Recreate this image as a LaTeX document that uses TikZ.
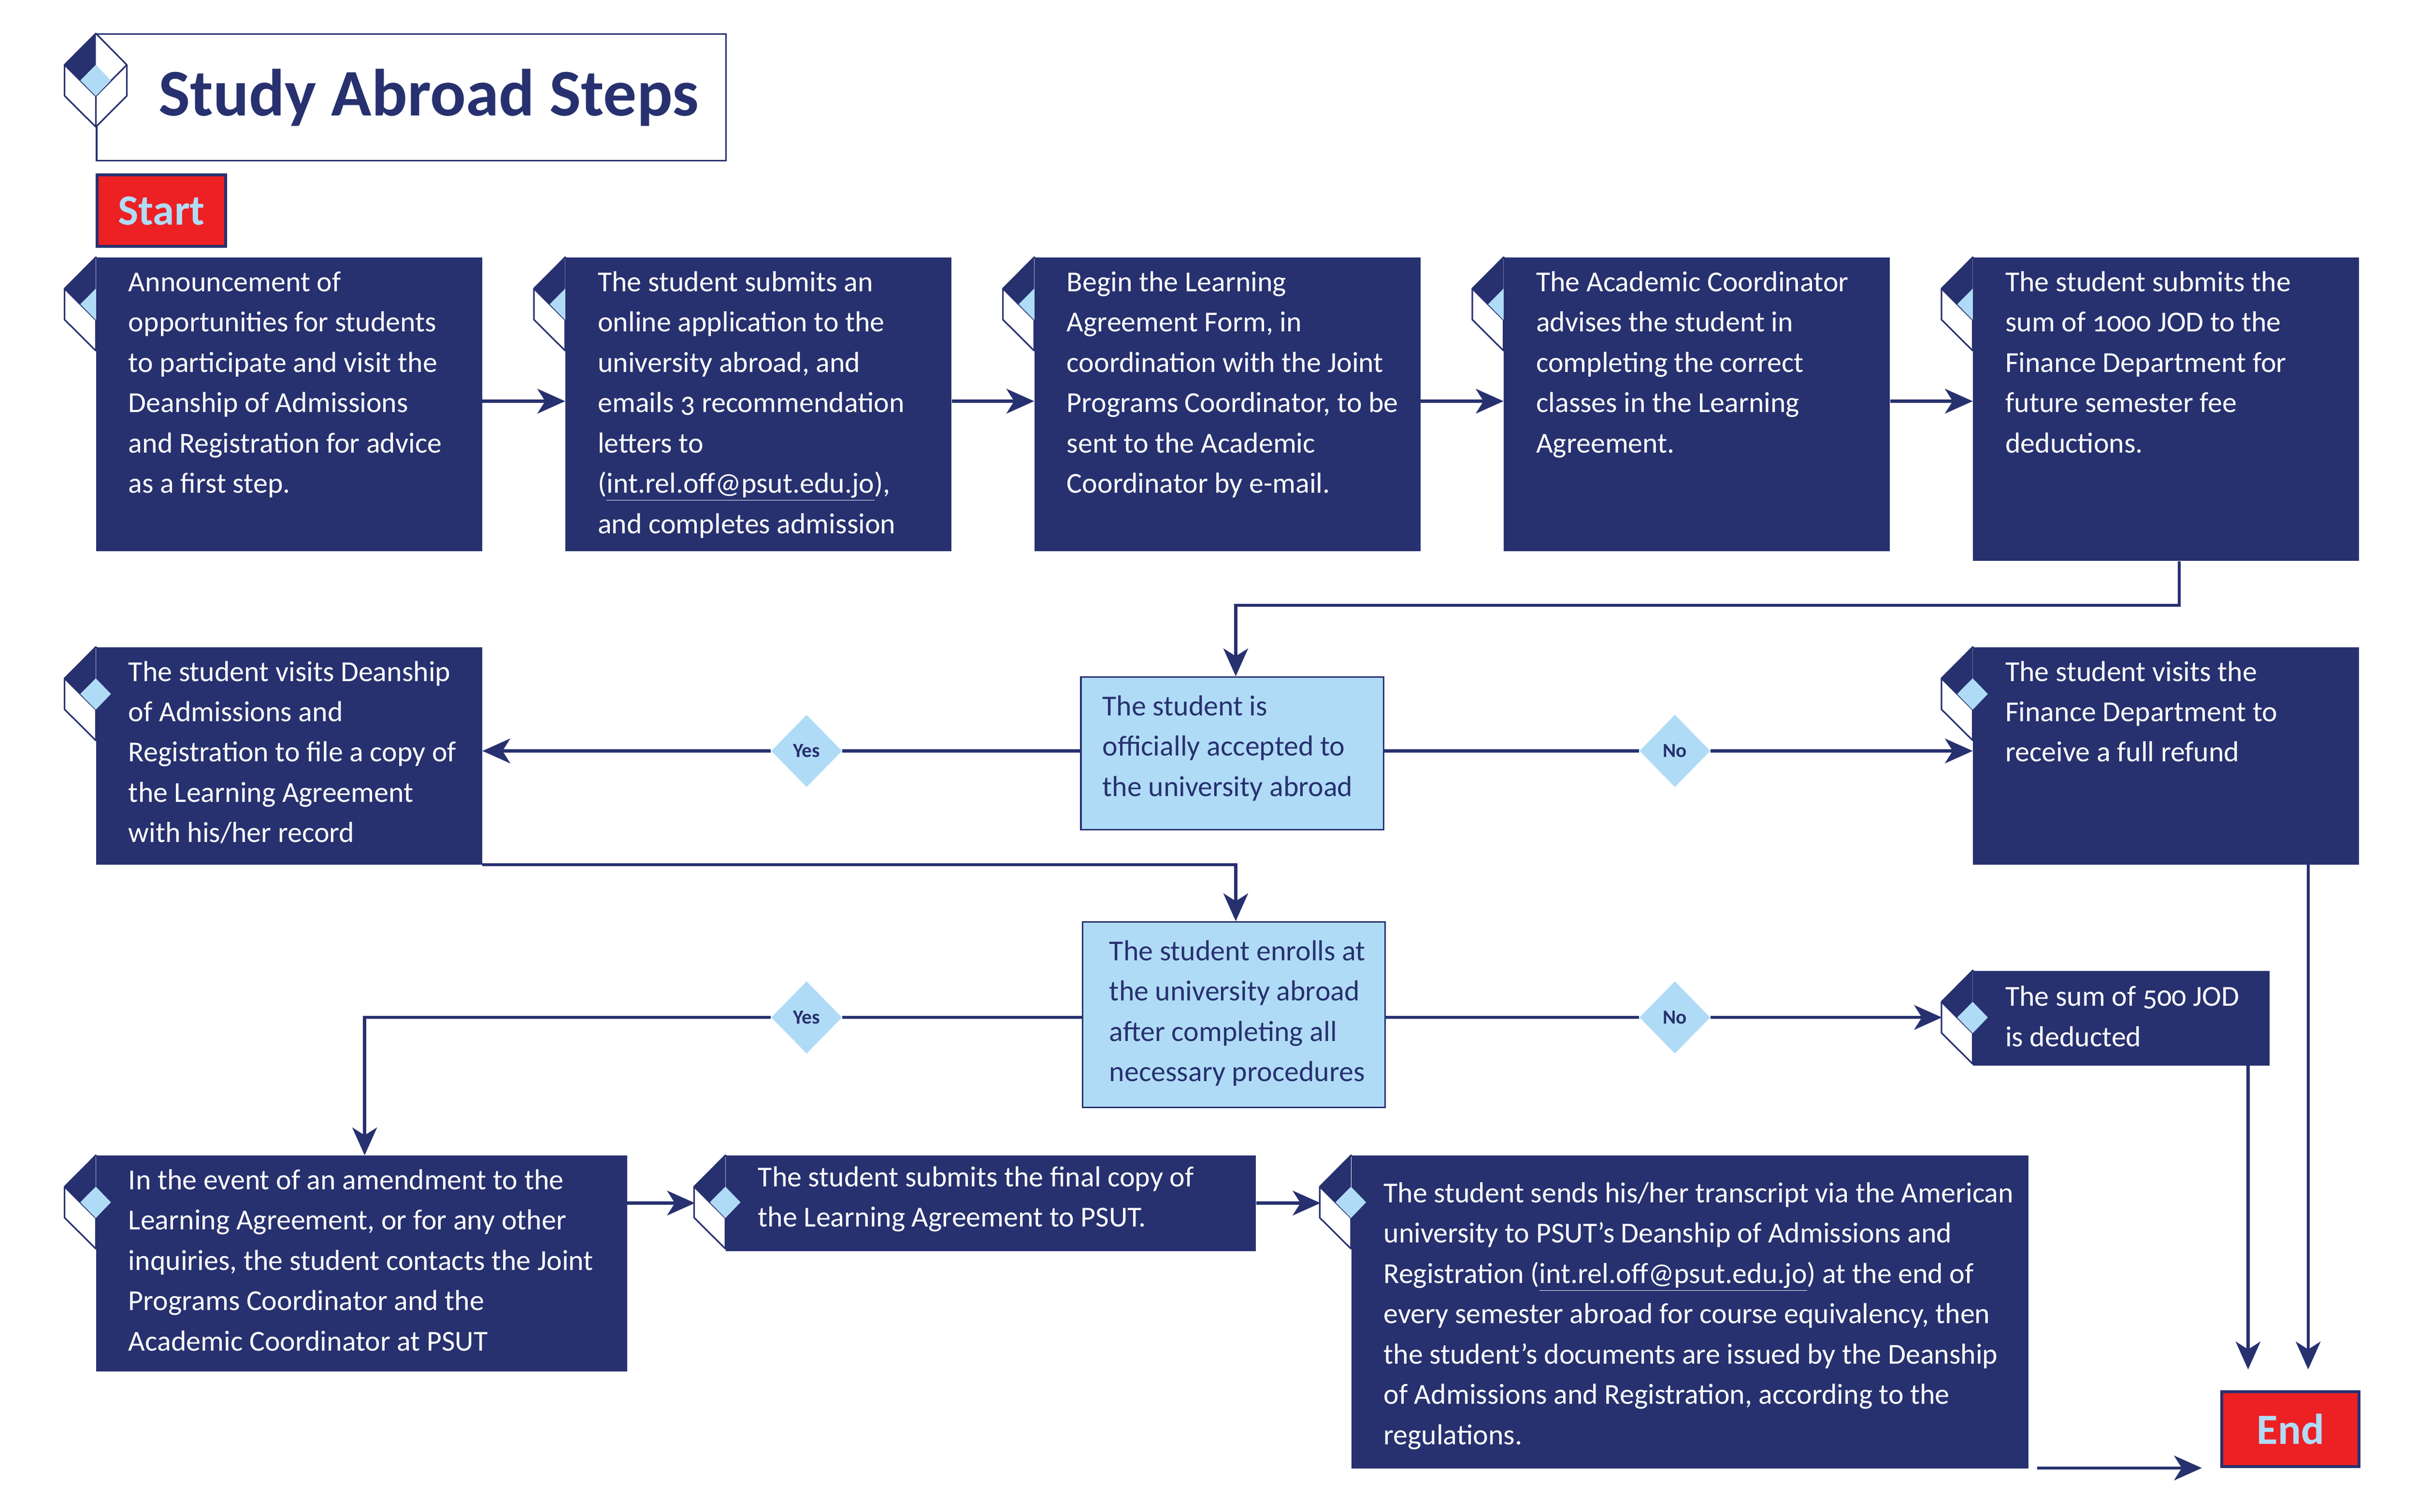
\documentclass[tikz,border=0pt]{standalone}
\usepackage{fontspec}
\setmainfont[Numbers=OldStyle]{Carlito}
\usetikzlibrary{arrows.meta,shapes.geometric,calc}
\definecolor{navy}{HTML}{27316F}
\definecolor{sky}{HTML}{B0DBF6}
\definecolor{alarm}{HTML}{ED2024}
\tikzset{
 stepbox/.style={rectangle,fill=navy,text=white,inner sep=0pt,anchor=north west},
 askbox/.style={rectangle,fill=sky,draw=navy,line width=1pt,text=navy,inner sep=0pt,anchor=north west},
 gate/.style={diamond,fill=sky,text=navy,inner sep=0pt,minimum width=46pt,minimum height=47pt,font=\fontsize{13}{15}\selectfont\bfseries},
 terminal/.style={rectangle,fill=alarm,draw=navy,line width=2pt,text=sky,inner sep=0pt,anchor=north west,font=\fontsize{28}{30}\selectfont\bfseries},
 conn/.style={draw=navy,line width=2pt,-{Stealth[length=18pt,width=16pt,inset=5pt]}},
 plain/.style={draw=navy,line width=2pt},
}
\newcommand{\flowbox}[9][stepbox]{%
 \node[#1,minimum width=#5 pt,minimum height=#6 pt] (#2) at (#3,#4)
 {\hspace*{#7pt}\parbox[c][#6pt][t]{\dimexpr#5pt-#7pt\relax}{\raggedright\fontsize{18.8}{26.17}\selectfont\rule{0pt}{#8pt}#9}};}
\newcommand{\iconback}[2]{%
 \begin{scope}[shift={(#1,#2)}]
 \draw[navy,line width=1pt,line join=round,fill=white] (0,0)--(-20.3,20.4)--(-20.3,40.5)--(0,60.7)--(20.1,40.5)--(20.1,20.4)--cycle;
 \fill[navy] (0,0)--(-20.3,20.4)--(-10,30.5)--(0,20.4)--cycle;
 \draw[navy,line width=1pt] (-20.3,20.4)--(0,40.7)--(20.1,20.4) (0,40.7)--(0,60.7);
 \fill[sky] (0,20.4)--(9.8,30.5)--(0,40.7)--(-10,30.5)--cycle;
 \end{scope}}
\newcommand{\icontop}[2]{\fill[sky] (#1,#2+20.4)--(#1+9.8,#2+30.5)--(#1,#2+40.7)--(#1-10,#2+30.5)--cycle;}
\begin{document}
\begin{tikzpicture}[x=1pt,y=-1pt]
\useasboundingbox (0,0) rectangle (1568,981.5);
% title
\node[rectangle,draw=navy,line width=1pt,text=navy,anchor=north west,minimum width=408.5pt,minimum height=82pt,inner sep=0pt] (title) at (62.2,21.7) {\hspace*{40pt}\parbox[c][82pt][c]{368pt}{\fontsize{43.2}{46}\selectfont\bfseries Study Abroad Steps}};
\iconback{62.2}{21.7}
\node[terminal,minimum width=83.5pt,minimum height=46.5pt] (start) at (62,112.5) {Start};
% back icons
\iconback{62.2}{167}\iconback{366.8}{167}\iconback{671.2}{167}\iconback{975.8}{167}\iconback{1280.3}{167}
\iconback{62.2}{420}\iconback{1280.3}{420}\iconback{1280.3}{630}
\iconback{62.2}{750}\iconback{470.8}{750}\iconback{876.8}{750}
% row 1
\flowbox{one}{62.2}{167}{250.5}{190.5}{21}{22}{Announcement of\\opportunities for students\\to participate and visit the\\Deanship of Admissions\\and Registration for advice\\as a first step.}
\flowbox{two}{366.8}{167}{250.5}{190.5}{21}{22}{The student submits an\\online application to the\\university abroad, and\\emails 3 recommendation\\letters to\\(\underline{int.rel.off@psut.edu.jo}),\\and completes admission}
\flowbox{three}{671.2}{167}{250.5}{190.5}{21}{22}{Begin the Learning\\Agreement Form, in\\coordination with the Joint\\Programs Coordinator, to be\\sent to the Academic\\Coordinator by e-mail.}
\flowbox{four}{975.8}{167}{250.5}{190.5}{21}{22}{The Academic Coordinator\\advises the student in\\completing the correct\\classes in the Learning\\Agreement.}
\flowbox{five}{1280.3}{167}{250.5}{197}{21}{22}{The student submits the\\sum of 1000 JOD to the\\Finance Department for\\future semester fee\\deductions.}
% row 2
\flowbox{file}{62.2}{420}{250.5}{141}{21}{22}{The student visits Deanship\\of Admissions and\\Registration to file a copy of\\the Learning Agreement\\with his/her record}
\flowbox{refund}{1280.3}{420}{250.5}{141}{21}{22}{The student visits the\\Finance Department to\\receive a full refund}
\flowbox[askbox]{accepted}{701}{439}{196.5}{99}{14}{25}{The student is\\officially accepted to\\the university abroad}
\node[gate] (yesa) at (523.5,487.5) {Yes};
\node[gate] (noa) at (1087,487.5) {No};
% row 3
\flowbox[askbox]{enrolled}{702}{598}{196.5}{120.5}{17.5}{25}{The student enrolls at\\the university abroad\\after completing all\\necessary procedures}
\node[gate] (yesb) at (523.5,660.5) {Yes};
\node[gate] (nob) at (1087,660.5) {No};
\flowbox{deduct}{1280.3}{630}{192.5}{61.5}{21}{23}{The sum of 500 JOD\\is deducted}
% row 4
\flowbox{amend}{62.2}{750}{344.5}{140}{21}{22}{In the event of an amendment to the\\Learning Agreement, or for any other\\inquiries, the student contacts the Joint\\Programs Coordinator and the\\Academic Coordinator at PSUT}
\flowbox{final}{470.8}{750}{344}{62}{21}{20}{The student submits the final copy of\\the Learning Agreement to PSUT.}
\flowbox{transcript}{876.8}{750}{439.5}{203}{21}{30.5}{The student sends his/her transcript via the American\\university to PSUT’s Deanship of Admissions and\\Registration (\underline{int.rel.off@psut.edu.jo}) at the end of\\every semester abroad for course equivalency, then\\the student’s documents are issued by the Deanship\\of Admissions and Registration, according to the\\regulations.}
\node[terminal,minimum width=89pt,minimum height=48.5pt] (finish) at (1441,902.5) {End};
% diamonds on top
\icontop{62.2}{420}\icontop{1280.3}{420}\icontop{1280.3}{630}\icontop{62.2}{750}\icontop{470.8}{750}\icontop{876.8}{750}
% free ends
\coordinate (sumin) at (1260.3,660.5);
\coordinate (finalin) at (451,781);
\coordinate (transin) at (857,781);
\coordinate (enda) at (1459,889);
\coordinate (endb) at (1498,889);
\coordinate (tailc) at (1322,953);
\coordinate (endc) at (1429,953);
\coordinate (down) at (802,393);
% connectors
\draw[conn] ([yshift=2pt]one.east) -- ([yshift=2pt]two.west);
\draw[conn] ([yshift=2pt]two.east) -- ([yshift=2pt]three.west);
\draw[conn] ([yshift=2pt]three.east) -- ([yshift=2pt]four.west);
\draw[conn] ([yshift=2pt]four.east) -- ([yshift=2pt]four.east -| five.west);
\draw[conn] ([xshift=8.5pt]five.south) |- (down) -- (down |- accepted.north);
\draw[plain] (accepted.west |- yesa.east) -- (yesa.east);
\draw[conn] (yesa.west) -- (yesa.west -| file.east);
\draw[plain] (accepted.east |- noa.west) -- (noa.west);
\draw[conn] (noa.east) -- (noa.east -| refund.west);
\draw[conn] (file.south east) -- (file.south east -| down) -- (down |- enrolled.north);
\draw[plain] (enrolled.west |- yesb.east) -- (yesb.east);
\draw[conn] (yesb.west) -| ([xshift=2pt]amend.north);
\draw[plain] (enrolled.east |- nob.west) -- (nob.west);
\draw[conn] (nob.east) -- (sumin);
\draw[conn] (amend.east |- finalin) -- (finalin);
\draw[conn] (final.east |- transin) -- (transin);
\draw[conn] (deduct.south -| enda) -- (enda);
\draw[conn] (refund.south -| endb) -- (endb);
\draw[conn] (tailc) -- (endc);
\end{tikzpicture}
\end{document}
